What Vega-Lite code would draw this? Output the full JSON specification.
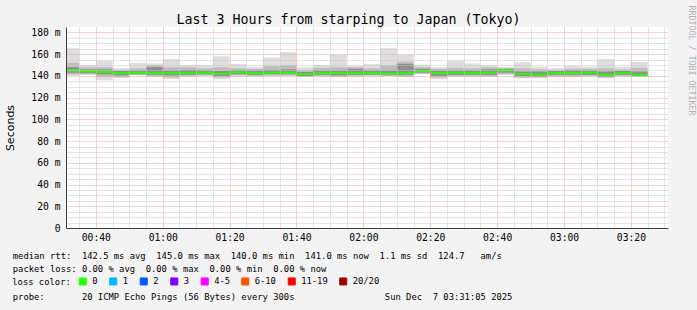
{
  "$schema": "https://vega.github.io/schema/vega-lite/v6.json",
  "width": 602,
  "height": 201,
  "autosize": {"type": "none"},
  "padding": {"left": 66, "top": 27, "right": 29, "bottom": 82},
  "background": "#f3f3f3",
  "config": {"view": {"fill": "white", "stroke": null}, "font": "DejaVu Sans Mono"},
  "data": {"values": [
    {"t0": "2025-12-07T00:30:00", "t1": "2025-12-07T00:35:00", "min": 140, "qlo": 141.5, "dlo": 143, "med": 145, "dhi": 148, "qhi": 152, "max": 165.5, "loss": "0"},
    {"t0": "2025-12-07T00:35:00", "t1": "2025-12-07T00:40:00", "min": 141, "qlo": 141.5, "dlo": 142.5, "med": 144, "dhi": 146, "qhi": 148, "max": 150, "loss": "0"},
    {"t0": "2025-12-07T00:40:00", "t1": "2025-12-07T00:45:00", "min": 136, "qlo": 139, "dlo": 141.5, "med": 143.5, "dhi": 146, "qhi": 148, "max": 154, "loss": "0"},
    {"t0": "2025-12-07T00:45:00", "t1": "2025-12-07T00:50:00", "min": 138, "qlo": 139, "dlo": 140.5, "med": 142.5, "dhi": 144.5, "qhi": 145.5, "max": 147, "loss": "0"},
    {"t0": "2025-12-07T00:50:00", "t1": "2025-12-07T00:55:00", "min": 140.5, "qlo": 141, "dlo": 141.5, "med": 143, "dhi": 145, "qhi": 147, "max": 152, "loss": "0"},
    {"t0": "2025-12-07T00:55:00", "t1": "2025-12-07T01:00:00", "min": 139, "qlo": 140, "dlo": 141, "med": 142.5, "dhi": 148, "qhi": 150, "max": 151.5, "loss": "0"},
    {"t0": "2025-12-07T01:00:00", "t1": "2025-12-07T01:05:00", "min": 137, "qlo": 138.5, "dlo": 140.5, "med": 142.5, "dhi": 145, "qhi": 148, "max": 155.5, "loss": "0"},
    {"t0": "2025-12-07T01:05:00", "t1": "2025-12-07T01:10:00", "min": 139.5, "qlo": 140, "dlo": 141, "med": 142.5, "dhi": 145.5, "qhi": 148, "max": 150, "loss": "0"},
    {"t0": "2025-12-07T01:10:00", "t1": "2025-12-07T01:15:00", "min": 140, "qlo": 140.5, "dlo": 141.5, "med": 143, "dhi": 145, "qhi": 147, "max": 150, "loss": "0"},
    {"t0": "2025-12-07T01:15:00", "t1": "2025-12-07T01:20:00", "min": 137, "qlo": 138.5, "dlo": 140, "med": 142, "dhi": 144.5, "qhi": 148, "max": 158, "loss": "0"},
    {"t0": "2025-12-07T01:20:00", "t1": "2025-12-07T01:25:00", "min": 139.5, "qlo": 140.5, "dlo": 141.5, "med": 143.3, "dhi": 145.5, "qhi": 147, "max": 151, "loss": "0"},
    {"t0": "2025-12-07T01:25:00", "t1": "2025-12-07T01:30:00", "min": 139.5, "qlo": 140, "dlo": 141, "med": 142.5, "dhi": 145, "qhi": 146.5, "max": 148.5, "loss": "0"},
    {"t0": "2025-12-07T01:30:00", "t1": "2025-12-07T01:35:00", "min": 139.5, "qlo": 140.5, "dlo": 141.5, "med": 143, "dhi": 145.5, "qhi": 149, "max": 157, "loss": "0"},
    {"t0": "2025-12-07T01:35:00", "t1": "2025-12-07T01:40:00", "min": 140, "qlo": 140.5, "dlo": 141.5, "med": 143, "dhi": 146, "qhi": 150, "max": 162, "loss": "0"},
    {"t0": "2025-12-07T01:40:00", "t1": "2025-12-07T01:45:00", "min": 139, "qlo": 139.5, "dlo": 140, "med": 141.5, "dhi": 143.5, "qhi": 145.5, "max": 148, "loss": "0"},
    {"t0": "2025-12-07T01:45:00", "t1": "2025-12-07T01:50:00", "min": 139.5, "qlo": 140, "dlo": 141, "med": 142.5, "dhi": 145, "qhi": 147.5, "max": 150, "loss": "0"},
    {"t0": "2025-12-07T01:50:00", "t1": "2025-12-07T01:55:00", "min": 139, "qlo": 139.5, "dlo": 140.5, "med": 142.5, "dhi": 145, "qhi": 148, "max": 159.5, "loss": "0"},
    {"t0": "2025-12-07T01:55:00", "t1": "2025-12-07T02:00:00", "min": 139.5, "qlo": 140, "dlo": 141, "med": 142.5, "dhi": 146.5, "qhi": 148, "max": 149, "loss": "0"},
    {"t0": "2025-12-07T02:00:00", "t1": "2025-12-07T02:05:00", "min": 140, "qlo": 140.5, "dlo": 141, "med": 142.5, "dhi": 145, "qhi": 147, "max": 151, "loss": "0"},
    {"t0": "2025-12-07T02:05:00", "t1": "2025-12-07T02:10:00", "min": 140, "qlo": 140.5, "dlo": 140.5, "med": 142, "dhi": 145, "qhi": 150, "max": 165.5, "loss": "0"},
    {"t0": "2025-12-07T02:10:00", "t1": "2025-12-07T02:15:00", "min": 139, "qlo": 139.5, "dlo": 141, "med": 142.5, "dhi": 151, "qhi": 153, "max": 159.5, "loss": "0"},
    {"t0": "2025-12-07T02:15:00", "t1": "2025-12-07T02:20:00", "min": 141.5, "qlo": 142, "dlo": 143, "med": 144.5, "dhi": 146.5, "qhi": 148, "max": 150, "loss": "0"},
    {"t0": "2025-12-07T02:20:00", "t1": "2025-12-07T02:25:00", "min": 137, "qlo": 138.5, "dlo": 140, "med": 142.5, "dhi": 145, "qhi": 146.5, "max": 148, "loss": "0"},
    {"t0": "2025-12-07T02:25:00", "t1": "2025-12-07T02:30:00", "min": 139, "qlo": 140, "dlo": 141, "med": 143, "dhi": 145, "qhi": 147.5, "max": 154, "loss": "0"},
    {"t0": "2025-12-07T02:30:00", "t1": "2025-12-07T02:35:00", "min": 139.5, "qlo": 140, "dlo": 141, "med": 142.5, "dhi": 145, "qhi": 147, "max": 151.5, "loss": "0"},
    {"t0": "2025-12-07T02:35:00", "t1": "2025-12-07T02:40:00", "min": 139, "qlo": 139.5, "dlo": 141, "med": 143, "dhi": 146, "qhi": 148, "max": 150, "loss": "0"},
    {"t0": "2025-12-07T02:40:00", "t1": "2025-12-07T02:45:00", "min": 141, "qlo": 141.5, "dlo": 143, "med": 145, "dhi": 146.5, "qhi": 147, "max": 148, "loss": "0"},
    {"t0": "2025-12-07T02:45:00", "t1": "2025-12-07T02:50:00", "min": 138, "qlo": 138.5, "dlo": 140, "med": 141.8, "dhi": 144, "qhi": 147, "max": 152.5, "loss": "0"},
    {"t0": "2025-12-07T02:50:00", "t1": "2025-12-07T02:55:00", "min": 138, "qlo": 138.5, "dlo": 139.5, "med": 141.2, "dhi": 144, "qhi": 146, "max": 148.5, "loss": "0"},
    {"t0": "2025-12-07T02:55:00", "t1": "2025-12-07T03:00:00", "min": 139, "qlo": 139.5, "dlo": 141, "med": 142.5, "dhi": 144.5, "qhi": 145.5, "max": 147, "loss": "0"},
    {"t0": "2025-12-07T03:00:00", "t1": "2025-12-07T03:05:00", "min": 139, "qlo": 139.5, "dlo": 141, "med": 142.5, "dhi": 145, "qhi": 146.5, "max": 149, "loss": "0"},
    {"t0": "2025-12-07T03:05:00", "t1": "2025-12-07T03:10:00", "min": 139.5, "qlo": 140, "dlo": 141, "med": 143, "dhi": 145, "qhi": 146.5, "max": 148.5, "loss": "0"},
    {"t0": "2025-12-07T03:10:00", "t1": "2025-12-07T03:15:00", "min": 138, "qlo": 138.5, "dlo": 139.5, "med": 141.2, "dhi": 144, "qhi": 147, "max": 155.5, "loss": "0"},
    {"t0": "2025-12-07T03:15:00", "t1": "2025-12-07T03:20:00", "min": 139.5, "qlo": 140, "dlo": 141, "med": 142.5, "dhi": 144.5, "qhi": 146, "max": 148.5, "loss": "0"},
    {"t0": "2025-12-07T03:20:00", "t1": "2025-12-07T03:25:00", "min": 139, "qlo": 139.5, "dlo": 140, "med": 141, "dhi": 144, "qhi": 147.5, "max": 153, "loss": "0"}
  ]},
  "layer": [
    {
      "mark": {"type": "rect", "clip": true, "color": "#dedede"},
      "encoding": {
        "x": {"field": "t0", "type": "temporal",
          "scale": {"domain": [{"year": 2025, "month": 12, "date": 7, "hours": 0, "minutes": 31, "seconds": 5}, {"year": 2025, "month": 12, "date": 7, "hours": 3, "minutes": 31, "seconds": 5}]},
          "axis": {
            "orient": "bottom",
            "values": [
              {"year": 2025, "month": 12, "date": 7, "hours": 0, "minutes": 40},
              {"year": 2025, "month": 12, "date": 7, "hours": 1, "minutes": 0},
              {"year": 2025, "month": 12, "date": 7, "hours": 1, "minutes": 20},
              {"year": 2025, "month": 12, "date": 7, "hours": 1, "minutes": 40},
              {"year": 2025, "month": 12, "date": 7, "hours": 2, "minutes": 0},
              {"year": 2025, "month": 12, "date": 7, "hours": 2, "minutes": 20},
              {"year": 2025, "month": 12, "date": 7, "hours": 2, "minutes": 40},
              {"year": 2025, "month": 12, "date": 7, "hours": 3, "minutes": 0},
              {"year": 2025, "month": 12, "date": 7, "hours": 3, "minutes": 20}
            ],
            "format": "%H:%M",
            "labelFont": "DejaVu Sans Mono", "labelFontSize": 9.7, "labelColor": "#000",
            "labelPadding": 4, "labelFlush": false, "labelOverlap": false,
            "ticks": false,
            "domain": true, "domainColor": "#404040",
            "grid": true, "gridColor": "#f0a0a0", "gridDash": [1, 1], "gridOpacity": 1,
            "zindex": 1,
            "title": [
              "median rtt:\u00a0\u00a0142.5 ms avg\u00a0\u00a0145.0 ms max\u00a0\u00a0140.0 ms min\u00a0\u00a0141.0 ms now\u00a0\u00a01.1 ms sd\u00a0\u00a0124.7\u00a0\u00a0\u00a0am/s",
              "packet loss: 0.00 % avg\u00a0\u00a00.00 % max\u00a0\u00a00.00 % min\u00a0\u00a00.00 % now"
            ],
            "titleX": -53.7, "titleY": 30,
            "titleAlign": "left", "titleBaseline": "alphabetic",
            "titleFont": "DejaVu Sans Mono", "titleFontSize": 8.84, "titleFontWeight": "normal",
            "titleColor": "#000", "titleLineHeight": 13.8
          }
        },
        "x2": {"field": "t1"},
        "y": {"field": "min", "type": "quantitative",
          "scale": {"domain": [0, 185], "nice": false, "zero": true},
          "axis": {
            "orient": "left",
            "values": [0, 20, 40, 60, 80, 100, 120, 140, 160, 180],
            "labelExpr": "datum.value == 0 ? '0' : datum.value + ' m'",
            "labelFont": "DejaVu Sans Mono", "labelFontSize": 9.7, "labelColor": "#000",
            "labelPadding": 6, "ticks": false,
            "domain": true, "domainColor": "#404040",
            "grid": true, "gridColor": "#f0a0a0", "gridDash": [1, 1], "gridOpacity": 1,
            "zindex": 1,
            "title": "Seconds",
            "titleFont": "DejaVu Sans", "titleFontSize": 11, "titleFontWeight": "normal", "titleColor": "#000",
            "titleX": -56, "titleY": 100.5, "titleAngle": -90, "titleAlign": "center", "titleBaseline": "middle"
          }
        },
        "y2": {"field": "max"}
      }
    },
    {
      "mark": {"type": "rect", "clip": true, "color": "#bdbdbd"},
      "encoding": {
        "x": {"field": "t0", "type": "temporal",
          "axis": {
            "orient": "bottom",
            "values": [
              {"year": 2025, "month": 12, "date": 7, "hours": 0, "minutes": 35},
              {"year": 2025, "month": 12, "date": 7, "hours": 0, "minutes": 45},
              {"year": 2025, "month": 12, "date": 7, "hours": 0, "minutes": 50},
              {"year": 2025, "month": 12, "date": 7, "hours": 0, "minutes": 55},
              {"year": 2025, "month": 12, "date": 7, "hours": 1, "minutes": 5},
              {"year": 2025, "month": 12, "date": 7, "hours": 1, "minutes": 10},
              {"year": 2025, "month": 12, "date": 7, "hours": 1, "minutes": 15},
              {"year": 2025, "month": 12, "date": 7, "hours": 1, "minutes": 25},
              {"year": 2025, "month": 12, "date": 7, "hours": 1, "minutes": 30},
              {"year": 2025, "month": 12, "date": 7, "hours": 1, "minutes": 35},
              {"year": 2025, "month": 12, "date": 7, "hours": 1, "minutes": 45},
              {"year": 2025, "month": 12, "date": 7, "hours": 1, "minutes": 50},
              {"year": 2025, "month": 12, "date": 7, "hours": 1, "minutes": 55},
              {"year": 2025, "month": 12, "date": 7, "hours": 2, "minutes": 5},
              {"year": 2025, "month": 12, "date": 7, "hours": 2, "minutes": 10},
              {"year": 2025, "month": 12, "date": 7, "hours": 2, "minutes": 15},
              {"year": 2025, "month": 12, "date": 7, "hours": 2, "minutes": 25},
              {"year": 2025, "month": 12, "date": 7, "hours": 2, "minutes": 30},
              {"year": 2025, "month": 12, "date": 7, "hours": 2, "minutes": 35},
              {"year": 2025, "month": 12, "date": 7, "hours": 2, "minutes": 45},
              {"year": 2025, "month": 12, "date": 7, "hours": 2, "minutes": 50},
              {"year": 2025, "month": 12, "date": 7, "hours": 2, "minutes": 55},
              {"year": 2025, "month": 12, "date": 7, "hours": 3, "minutes": 5},
              {"year": 2025, "month": 12, "date": 7, "hours": 3, "minutes": 10},
              {"year": 2025, "month": 12, "date": 7, "hours": 3, "minutes": 15},
              {"year": 2025, "month": 12, "date": 7, "hours": 3, "minutes": 25},
              {"year": 2025, "month": 12, "date": 7, "hours": 3, "minutes": 30}
            ],
            "labels": false, "ticks": false, "domain": false,
            "grid": true, "gridColor": "#c8c8c8", "gridDash": [1, 1], "gridOpacity": 1,
            "zindex": 1,
            "title": "probe:\u00a0\u00a0\u00a0\u00a0\u00a0\u00a0\u00a020 ICMP Echo Pings (56 Bytes) every 300s\u00a0\u00a0\u00a0\u00a0\u00a0\u00a0\u00a0\u00a0\u00a0\u00a0\u00a0\u00a0\u00a0\u00a0\u00a0\u00a0\u00a0Sun Dec\u00a0\u00a07 03:31:05 2025",
            "titleX": -53.7, "titleY": 71.4,
            "titleAlign": "left", "titleBaseline": "alphabetic",
            "titleFont": "DejaVu Sans Mono", "titleFontSize": 8.84, "titleFontWeight": "normal",
            "titleColor": "#000"
          }
        },
        "x2": {"field": "t1"},
        "y": {"field": "qlo", "type": "quantitative",
          "scale": {"domain": [0, 185], "nice": false},
          "axis": {
            "orient": "left",
            "values": [5, 10, 15, 25, 30, 35, 45, 50, 55, 65, 70, 75, 85, 90, 95, 105, 110, 115, 125, 130, 135, 145, 150, 155, 165, 170, 175],
            "labels": false, "ticks": false, "domain": false, "title": null,
            "grid": true, "gridColor": "#c8c8c8", "gridDash": [1, 1], "gridOpacity": 1,
            "zindex": 1
          }
        },
        "y2": {"field": "qhi"}
      }
    },
    {
      "mark": {"type": "rect", "clip": true, "color": "#8e8e8e"},
      "encoding": {
        "x": {"field": "t0", "type": "temporal",
          "axis": {
            "orient": "top",
            "labels": false, "ticks": false, "domain": false, "grid": false,
            "title": "Last 3 Hours from starping to Japan (Tokyo)",
            "titleFont": "DejaVu Sans Mono", "titleFontSize": 13.3, "titleFontWeight": "normal", "titleColor": "#000",
            "titleX": 282, "titleY": -3.5, "titleAlign": "center", "titleBaseline": "alphabetic"
          }
        },
        "x2": {"field": "t1"},
        "y": {"field": "dlo", "type": "quantitative", "scale": {"domain": [0, 185], "nice": false}, "axis": null},
        "y2": {"field": "dhi"}
      }
    },
    {
      "mark": {"type": "rule", "clip": true, "strokeWidth": 2, "strokeCap": "butt"},
      "encoding": {
        "x": {"field": "t0", "type": "temporal", "axis": null},
        "x2": {"field": "t1"},
        "y": {"field": "med", "type": "quantitative",
          "scale": {"domain": [0, 185], "nice": false},
          "axis": {
            "orient": "right",
            "labels": false, "ticks": false, "domain": false, "grid": false,
            "title": "RRDTOOL / TOBI OETIKER",
            "titleFont": "DejaVu Sans Mono", "titleFontSize": 8.3, "titleFontWeight": "normal", "titleColor": "#b0b0b0",
            "titleX": 22, "titleY": 33, "titleAngle": 90, "titleAlign": "center", "titleBaseline": "middle"
          }
        },
        "color": {"field": "loss", "type": "nominal",
          "scale": {
            "domain": ["0", "1", "2", "3", "4-5", "6-10", "11-19", "20/20"],
            "range": ["#26ff00", "#00b8ff", "#0059ff", "#7e00ff", "#ff00ff", "#ff5500", "#ff0000", "#a10000"]
          },
          "legend": {
            "orient": "none", "legendX": -53.7, "legendY": 250, "direction": "horizontal",
            "title": "loss color:", "titleOrient": "left", "titlePadding": 7,
            "titleFont": "DejaVu Sans Mono", "titleFontSize": 8.84, "titleFontWeight": "normal", "titleColor": "#000",
            "labelFont": "DejaVu Sans Mono", "labelFontSize": 8.84, "labelColor": "#000", "labelOffset": 5,
            "symbolType": "square", "symbolSize": 49, "symbolStrokeWidth": 1, "symbolStrokeColor": "#000",
            "columnPadding": 8.5, "padding": 0,
            "encode": {"symbols": {"update": {"fill": {"scale": "color", "field": "value"}, "stroke": {"value": "#000"}, "strokeWidth": {"value": 1}, "opacity": {"value": 1}}}}
          }
        }
      }
    }
  ],
  "resolve": {"axis": {"x": "independent", "y": "independent"}}
}
